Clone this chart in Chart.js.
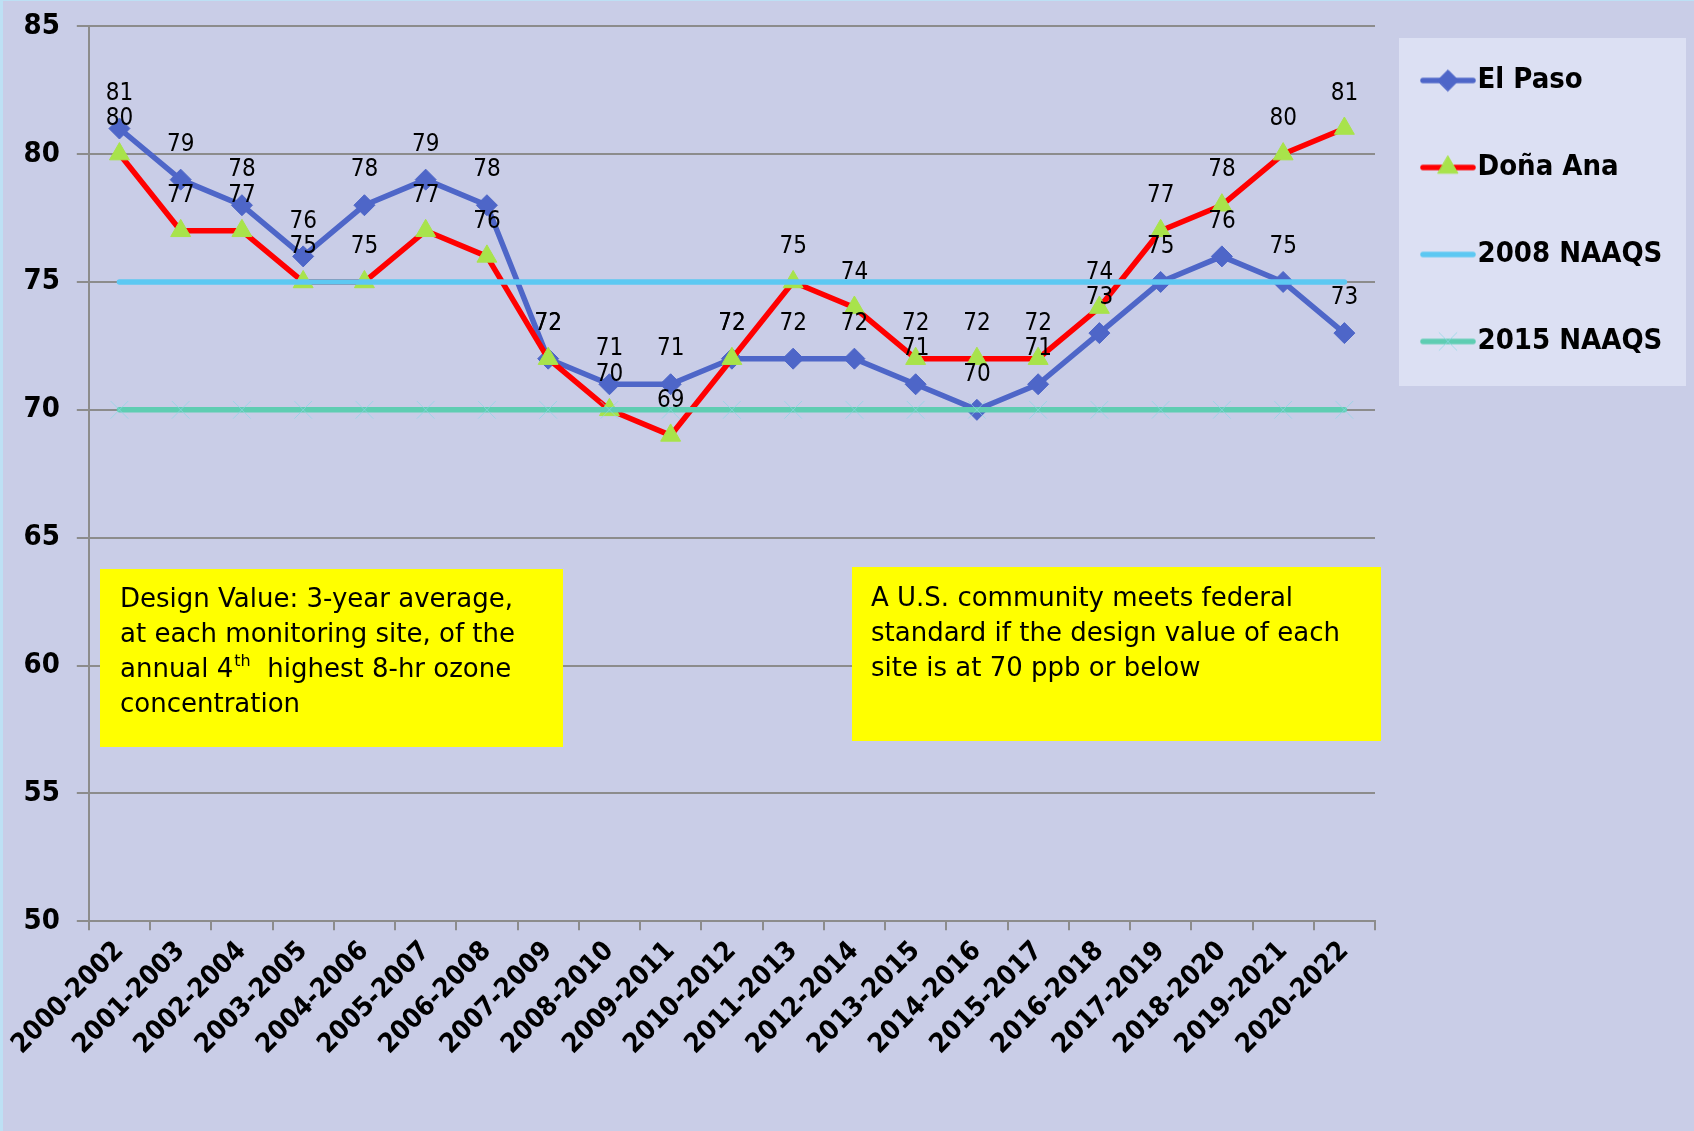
<!DOCTYPE html>
<html>
<head>
<meta charset="utf-8">
<title>El Paso / Doña Ana ozone design values</title>
<script src="https://cdn.jsdelivr.net/npm/chart.js@4.4.1/dist/chart.umd.min.js"></script>
<style>
  html, body { margin: 0; padding: 0; background: #c9cde7; }
  canvas { display: block; }
</style>
</head>
<body>
<canvas id="chart" width="1694" height="1131"></canvas>
<script>
// ---- data ---------------------------------------------------------------
const categories = [
  '2000-2002', '2001-2003', '2002-2004', '2003-2005', '2004-2006', '2005-2007',
  '2006-2008', '2007-2009', '2008-2010', '2009-2011', '2010-2012', '2011-2013',
  '2012-2014', '2013-2015', '2014-2016', '2015-2017', '2016-2018', '2017-2019',
  '2018-2020', '2019-2021', '2020-2022'
];
const elPaso    = [81, 79, 78, 76, 78, 79, 78, 72, 71, 71, 72, 72, 72, 71, 70, 71, 73, 75, 76, 75, 73];
const donaAna   = [80, 77, 77, 75, 75, 77, 76, 72, 70, 69, 72, 75, 74, 72, 72, 72, 74, 77, 78, 80, 81];
const naaqs2008 = [75, 75, 75, 75, 75, 75, 75, 75, 75, 75, 75, 75, 75, 75, 75, 75, 75, 75, 75, 75, 75];
const naaqs2015 = [70, 70, 70, 70, 70, 70, 70, 70, 70, 70, 70, 70, 70, 70, 70, 70, 70, 70, 70, 70, 70];
const yTicks = [50, 55, 60, 65, 70, 75, 80, 85];

const noteLeft = [
  'Design Value: 3-year average,',
  'at each monitoring site, of the',
  ['annual 4', '^th', '  highest 8-hr ozone'],
  'concentration'
];
const noteRight = [
  'A U.S. community meets federal',
  'standard if the design value of each',
  'site is at 70 ppb or below'
];

// ---- styling ------------------------------------------------------------
const FONT = '"DejaVu Sans Condensed", "DejaVu Sans", sans-serif';
const NOTE_FONT = '"DejaVu Sans", sans-serif';
const GRID = '#8c8c8c';
const BG = '#c9cde7';
const LEGEND_FONT = { family: FONT, size: 29, weight: 'bold' };
const LEGEND_PAD = 58;
const LEGEND_BOX_W = 30;
const PLOT_RIGHT = 1375;

function legendIcon(ds) {
  const c = document.createElement('canvas');
  c.width = 56; c.height = 30;
  const g = c.getContext('2d');
  g.strokeStyle = ds.borderColor;
  g.lineWidth = ds.borderWidth;
  g.lineCap = 'round';
  g.beginPath(); g.moveTo(3, 15); g.lineTo(53, 15); g.stroke();
  if (ds.pointRadius > 0) {
    g.fillStyle = ds.pointBackgroundColor;
    g.strokeStyle = ds.pointBorderColor;
    g.lineWidth = ds.pointBorderWidth;
    Chart.helpers.drawPoint(g, {
      pointStyle: ds.pointStyle, radius: ds.pointRadius, rotation: 0,
      borderWidth: ds.pointBorderWidth
    }, 28, 15);
  }
  return c;
}

// width reserved right of the plot so the legend lands where the original has it
const measure = document.createElement('canvas').getContext('2d');
measure.font = 'bold 29px ' + FONT;
const legendTextW = Math.max(...['El Paso', 'Doña Ana', '2008 NAAQS', '2015 NAAQS']
  .map(t => measure.measureText(t).width));
const rightPad = 1694 - PLOT_RIGHT - (LEGEND_PAD + LEGEND_BOX_W + 14.5 + legendTextW + 10);

const backdrop = {
  id: 'backdrop',
  beforeDraw(chart) {
    const { ctx, width, height, chartArea } = chart;
    ctx.save();
    ctx.fillStyle = BG;
    ctx.fillRect(0, 0, width, height);
    ctx.fillStyle = '#bde0f4';
    ctx.fillRect(0, 0, 3, height);
    ctx.fillRect(0, 0, width, 1);
    // legend panel
    ctx.fillStyle = '#dce0f3';
    ctx.fillRect(chartArea.right + 24, 38, width - 8 - (chartArea.right + 24), 348);
    ctx.restore();
  }
};

const valueLabels = {
  id: 'valueLabels',
  afterDatasetsDraw(chart) {
    const ctx = chart.ctx;
    ctx.save();
    ctx.font = '24px ' + FONT;
    ctx.fillStyle = '#000';
    ctx.textAlign = 'center';
    ctx.textBaseline = 'middle';
    [0, 1].forEach(di => {
      const values = chart.data.datasets[di].data;
      chart.getDatasetMeta(di).data.forEach((pt, i) => {
        ctx.fillText(String(values[i]), pt.x, pt.y - 35);
      });
    });
    ctx.restore();
  }
};

function drawNote(ctx, box, lines) {
  ctx.fillStyle = '#ffff00';
  ctx.fillRect(box.x, box.y, box.w, box.h);
  ctx.fillStyle = '#000';
  ctx.textAlign = 'left';
  ctx.textBaseline = 'alphabetic';
  lines.forEach((line, i) => {
    const y = box.ty + i * 35;
    let x = box.tx;
    const parts = Array.isArray(line) ? line : [line];
    parts.forEach(p => {
      if (p.startsWith('^')) {
        ctx.font = '16px ' + NOTE_FONT;
        ctx.fillText(p.slice(1), x + 1, y - 11);
        x += ctx.measureText(p.slice(1)).width + 1;
      } else {
        ctx.font = '26px ' + NOTE_FONT;
        ctx.fillText(p, x, y);
        x += ctx.measureText(p).width;
      }
    });
  });
}

const notes = {
  id: 'notes',
  afterDraw(chart) {
    const ctx = chart.ctx;
    ctx.save();
    drawNote(ctx, { x: 100, y: 569, w: 463, h: 178, tx: 120, ty: 607 }, noteLeft);
    drawNote(ctx, { x: 852, y: 567, w: 529, h: 174, tx: 871, ty: 606 }, noteRight);
    ctx.restore();
  }
};

// ---- chart --------------------------------------------------------------
new Chart(document.getElementById('chart'), {
  type: 'line',
  data: {
    labels: categories,
    datasets: [
      {
        label: 'El Paso', data: elPaso, order: 4,
        borderColor: '#4e66c8', borderWidth: 5.5, borderJoinStyle: 'round', borderCapStyle: 'round',
        pointStyle: 'rectRot', pointRadius: 10.5,
        pointBackgroundColor: '#4e66c8', pointBorderColor: '#4e66c8', pointBorderWidth: 1
      },
      {
        label: 'Doña Ana', data: donaAna, order: 3,
        borderColor: '#ff0000', borderWidth: 5.5, borderJoinStyle: 'round', borderCapStyle: 'round',
        pointStyle: 'triangle', pointRadius: 11.5,
        pointBackgroundColor: '#a8e34b', pointBorderColor: '#a8e34b', pointBorderWidth: 1
      },
      {
        label: '2008 NAAQS', data: naaqs2008, order: 2,
        borderColor: '#5cc8f2', borderWidth: 5.5, borderCapStyle: 'round',
        pointRadius: 0
      },
      {
        label: '2015 NAAQS', data: naaqs2015, order: 1,
        borderColor: '#5ecdb2', borderWidth: 5.5, borderCapStyle: 'round',
        pointStyle: 'crossRot', pointRadius: 12.5,
        pointBackgroundColor: 'rgba(0,0,0,0)', pointBorderColor: 'rgba(140,214,228,0.7)', pointBorderWidth: 1
      }
    ]
  },
  options: {
    responsive: false,
    animation: false,
    events: [],
    layout: { padding: { top: 8, left: 6.5, right: rightPad, bottom: 65 } },
    plugins: {
      title: { display: true, text: ' ', font: { size: 1 }, padding: { top: 0, bottom: 17 } },
      tooltip: { enabled: false },
      legend: {
        position: 'right',
        align: 'start',
        labels: {
          font: LEGEND_FONT,
          color: '#000',
          usePointStyle: true,
          pointStyleWidth: LEGEND_BOX_W,
          padding: LEGEND_PAD,
          generateLabels: chart => chart.data.datasets.map((ds, i) => ({
            text: ds.label,
            datasetIndex: i,
            pointStyle: legendIcon(ds),
            fillStyle: ds.borderColor,
            strokeStyle: ds.borderColor,
            lineWidth: 0,
            hidden: false,
            fontColor: '#000'
          }))
        }
      }
    },
    scales: {
      x: {
        offset: true,
        // rotated labels may hang left past the plot, as in the original
        afterFit: s => { s.paddingLeft = 0; },
        grid: { offset: true, drawOnChartArea: false, drawTicks: true, tickLength: 9, color: GRID, lineWidth: 2 },
        border: { color: GRID, width: 2 },
        ticks: {
          color: '#000', autoSkip: false, maxRotation: 45, minRotation: 45, padding: 5,
          font: { family: FONT, size: 27, weight: 'bold' }
        }
      },
      y: {
        min: yTicks[0],
        max: yTicks[yTicks.length - 1],
        afterBuildTicks: s => { s.ticks = yTicks.map(v => ({ value: v })); },
        // top label may sit above the plot edge; the title spacer sets the top
        afterFit: s => { s.paddingTop = 0; },
        grid: { color: GRID, lineWidth: 2, tickLength: 12 },
        border: { color: GRID, width: 2 },
        ticks: { color: '#000', padding: 17, font: { family: FONT, size: 29, weight: 'bold' } }
      }
    }
  },
  plugins: [backdrop, valueLabels, notes]
});
</script>
</body>
</html>
